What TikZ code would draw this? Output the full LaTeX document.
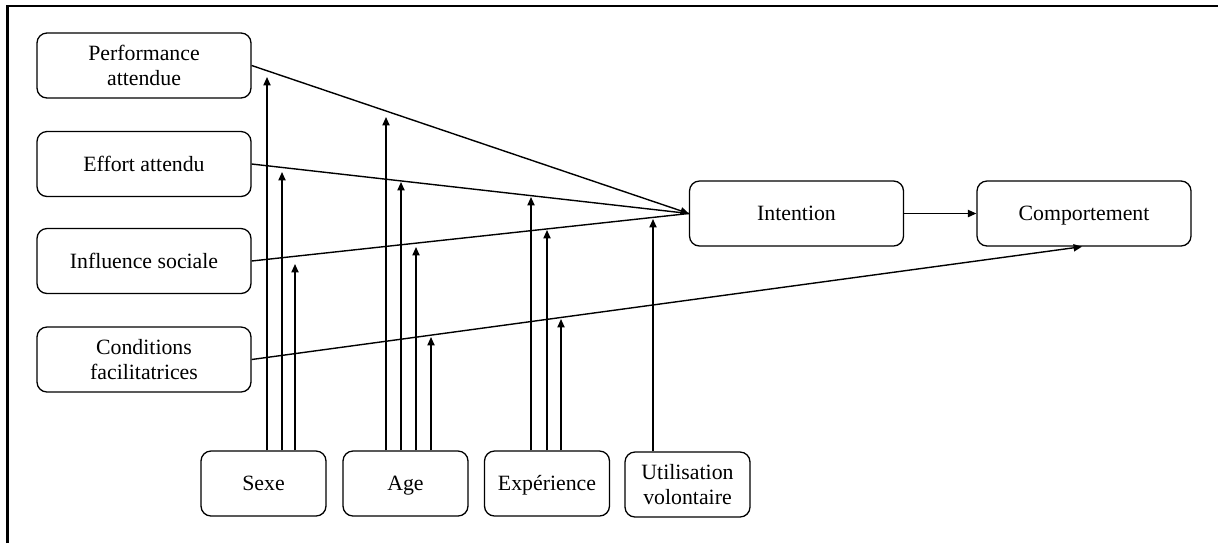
\documentclass[tikz,border=0pt]{standalone}
\usepackage{fontspec}
\setmainfont{Liberation Serif}
\usetikzlibrary{arrows.meta}
\begin{document}
\begin{tikzpicture}[x=0.5pt,y=-0.5pt,
  box/.style={draw, rounded corners=5pt, line width=0.65pt, minimum width=107pt,
    minimum height=32.5pt, align=center, inner sep=0pt,
    font=\rmfamily\fontsize{10.9}{12.5}\selectfont},
  single/.style={text height=9.5pt, text depth=2.3pt},
  sbox/.style={box, minimum width=62.5pt},
  conn/.style={line width=0.7pt},
  arr/.style={line width=0.7pt, -{Triangle[length=4.2pt,width=3.6pt]}},
  frame/.style={line width=1.2pt}]
\useasboundingbox (0,0) rectangle (1218,543);
\draw[frame] (7.5,543) -- (7.5,6) -- (1218,6);

% left boxes
\node[box] (perf) at (144,65.5) {Performance\\attendue};
\node[box, single] (eff)  at (144,164) {Effort attendu};
\node[box, single] (inf)  at (144,261) {Influence sociale};
\node[box] (cond) at (144,359.5) {Conditions\\facilitatrices};

% right boxes
\node[box, single] (int)  at (796.5,213.5) {Intention};
\node[box, single] (comp) at (1084,213.5) {Comportement};

% bottom boxes
\node[sbox, single] (sexe) at (263.5,483.5) {Sexe};
\node[sbox, single] (age)  at (405.5,483.5) {Age};
\node[sbox, single] (exp)  at (547,483.5) {Expérience};
\node[sbox] (util) at (687.5,484.5) {Utilisation\\volontaire};

% main connectors
\draw[arr] (perf.east) -- (int.west);
\draw[conn] (eff.east) -- (int.west);
\draw[conn] (inf.east) -- (int.west);
\draw[arr] (int.east) -- (comp.west);
\draw[arr] (cond.east) -- ([xshift=-1]comp.south);

% moderator tips
\coordinate (t1) at (267,77);
\coordinate (t2) at (282,172);
\coordinate (t3) at (295,264);
\coordinate (a1) at (386,117);
\coordinate (a2) at (401,182);
\coordinate (a3) at (416,247);
\coordinate (a4) at (431,337);
\coordinate (e1) at (531,197);
\coordinate (e2) at (547,230);
\coordinate (e3) at (561,319);
\coordinate (u1) at (653,219);

\foreach \c in {t1,t2,t3} \draw[arr] (sexe.north -| \c) -- (\c);
\foreach \c in {a1,a2,a3,a4} \draw[arr] (age.north -| \c) -- (\c);
\foreach \c in {e1,e2,e3} \draw[arr] (exp.north -| \c) -- (\c);
\draw[arr] (util.north -| u1) -- (u1);
\end{tikzpicture}
\end{document}
